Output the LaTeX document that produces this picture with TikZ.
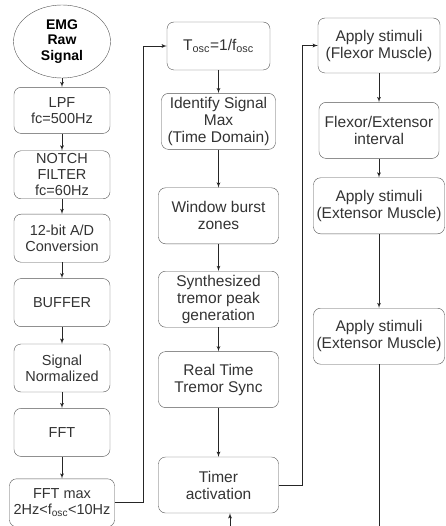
\documentclass[tikz,border=0pt]{standalone}
\usepackage{fontspec}
\setmainfont{Liberation Sans}
\usetikzlibrary{shapes,arrows,positioning}
\definecolor{boxline}{HTML}{555555}
\definecolor{boxtext}{HTML}{333333}
\tikzset{
        block/.style = {draw=boxline, rounded corners=7pt, rectangle, align=center, text=boxtext, inner sep=1pt, minimum width=96pt, minimum height=48pt, font=\fontsize{14.5}{16}\selectfont},
        wideblock/.style = {block, minimum width=120pt, minimum height=56pt, font=\fontsize{15.5}{17}\selectfont},
        start/.style = {draw=boxline, ellipse, align=center, inner sep=0pt, minimum width=97pt, minimum height=73pt, font=\bfseries\fontsize{14}{15.5}\selectfont},
        input/.style = {coordinate},
        output/.style = {coordinate},
        line/.style = {draw=black!85, line width=0.8pt},
    }

\begin{document}
\begin{tikzpicture}[x=1pt, y=-1pt, >=latex']
    \useasboundingbox (0,0) rectangle (445,526);

    % acquisition chain
    \node [start] (emg) at (62,41.5) {EMG\\Raw\\Signal};
    \node [block, minimum height=46pt, below=9pt of emg] (lpf) {LPF\\fc=500Hz};
    \node [block, below=17pt of lpf] (notch) {NOTCH\\FILTER\\fc=60Hz};
    \node [block, below=15pt of notch] (adc) {12-bit A/D\\Conversion};
    \node [block, below=16pt of adc] (buffer) {BUFFER};
    \node [block, below=17pt of buffer] (norm) {Signal\\Normalized};
    \node [block, below=16pt of norm] (fft) {FFT};
    \node [block, minimum width=105pt, below=22pt of fft] (fftmax) {FFT max\\2Hz<f\textsubscript{osc}<10Hz};

    % tremor synchronisation
    \node [wideblock, minimum width=103pt, minimum height=48pt] (tosc) at (218.5,46) {T\textsubscript{osc}=1/f\textsubscript{osc}};
    \node [wideblock, minimum width=114pt, below=23pt of tosc] (ident) {Identify Signal\\Max\\(Time Domain)};
    \node [wideblock, below=38pt of ident] (window) {Window burst\\zones};
    \node [wideblock, below=27pt of window] (synth) {Synthesized\\tremor peak\\generation};
    \node [wideblock, below=24pt of synth] (sync) {Real Time\\Tremor Sync};
    \node [wideblock, below=49pt of sync] (timer) {Timer\\activation};

    % stimulation
    \node [wideblock, minimum width=122pt, minimum height=55pt] (flexor) at (379,45.5) {Apply stimuli\\(Flexor Muscle)};
    \node [wideblock, below=29pt of flexor] (interval) {Flexor/Extensor\\interval};
    \node [wideblock, minimum width=131pt, below=19pt of interval] (extA) {Apply stimuli\\(Extensor Muscle)};
    \node [wideblock, minimum width=131pt, below=74pt of extA] (extB) {Apply stimuli\\(Extensor Muscle)};

    \node [input] (trigger) at (230,526) {};
    \node [output] (loop) at (extB.south |- trigger) {};

    \foreach \a/\b in {emg/lpf, lpf/notch, notch/adc, adc/buffer, buffer/norm, norm/fft, fft/fftmax,
                       tosc/ident, ident/window, window/synth, synth/sync, sync/timer,
                       flexor/interval, interval/extA, extA/extB}
        \draw [line, ->] (\a) -- (\b);

    \draw [line, ->] (fftmax.east) -- ++(28.5,0) |- (tosc);
    \draw [line, ->] (timer.east) -- ++(23.5,0) |- (flexor);
    \draw [line, ->] (trigger) -- (trigger |- timer.south);
    \draw [line] (extB) -- (loop);

\end{tikzpicture}
\end{document}
